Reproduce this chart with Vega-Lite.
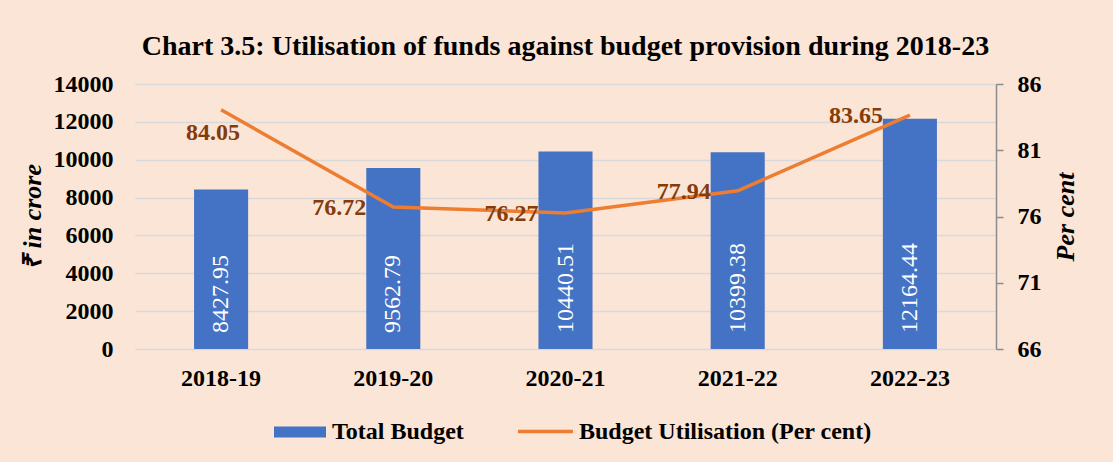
{
  "$schema": "https://vega.github.io/schema/vega-lite/v6.json",
  "width": 861,
  "height": 265,
  "autosize": {"type": "none"},
  "padding": {"left": 135, "top": 84, "right": 117, "bottom": 113},
  "background": "#FBE5D6",
  "config": {
    "view": {"stroke": null},
    "font": "Liberation Serif",
    "axis": {"labelFont": "Liberation Serif", "titleFont": "Liberation Serif", "labelColor": "#000000", "titleColor": "#000000", "labelFontWeight": "bold", "labelFontSize": 24},
    "legend": {"labelFont": "Liberation Serif", "labelFontSize": 24, "labelFontWeight": "bold", "labelColor": "#000000", "labelLimit": 500}
  },
  "title": {"text": "Chart 3.5: Utilisation of funds against budget provision during 2018-23", "font": "Liberation Serif", "fontSize": 28, "fontWeight": "bold", "color": "#000000", "anchor": "middle", "offset": 11},
  "data": {"values": [
    {"year": "2018-19", "budget": 8427.95, "util": 84.05},
    {"year": "2019-20", "budget": 9562.79, "util": 76.72},
    {"year": "2020-21", "budget": 10440.51, "util": 76.27},
    {"year": "2021-22", "budget": 10399.38, "util": 77.94},
    {"year": "2022-23", "budget": 12164.44, "util": 83.65}
  ]},
  "encoding": {
    "x": {"field": "year", "type": "nominal", "sort": null, "scale": {"paddingInner": 0, "paddingOuter": 0},
      "axis": {"title": null, "labelAngle": 0, "ticks": false, "domain": false, "labelPadding": 17, "grid": false}}
  },
  "layer": [
    {
      "encoding": {
        "y": {"field": "budget", "type": "quantitative", "scale": {"domain": [0, 14000]},
          "axis": {"title": "₹ in crore", "titleFontStyle": "italic", "titleFontWeight": "bold", "titleFontSize": 26, "titlePadding": 8,
            "values": [0, 2000, 4000, 6000, 8000, 10000, 12000, 14000], "format": "d", "domain": false, "ticks": false, "labelPadding": 22,
            "grid": true, "gridColor": "#D9D9D9", "gridWidth": 1.5}}
      },
      "layer": [
        {
          "mark": {"type": "bar", "width": {"band": 0.314}},
          "encoding": {
            "fill": {"datum": "Total Budget", "type": "nominal", "scale": {"range": ["#4472C4"]},
              "legend": {"title": null, "orient": "none", "legendX": 139, "legendY": 322, "symbolType": "M-1,-0.21H1V0.21H-1Z", "symbolSize": 2704, "symbolStrokeWidth": 0, "symbolOpacity": 1, "labelOffset": 6}}
          }
        },
        {
          "mark": {"type": "text", "angle": 270, "align": "left", "baseline": "middle", "dx": 16, "fill": "#FFFFFF", "fontSize": 24, "font": "Liberation Serif"},
          "encoding": {
            "y": {"datum": 0, "type": "quantitative"},
            "text": {"field": "budget", "type": "quantitative", "format": ".2f"}
          }
        }
      ]
    },
    {
      "encoding": {
        "y": {"field": "util", "type": "quantitative", "scale": {"domain": [66, 86]},
          "axis": {"orient": "right", "title": "Per cent", "titleAngle": 270, "titleFontStyle": "italic", "titleFontWeight": "bold", "titleFontSize": 26, "titlePadding": 37,
            "values": [66, 71, 76, 81, 86], "grid": false, "domainColor": "#8C8C8C", "domainWidth": 1.5, "tickColor": "#8C8C8C", "tickWidth": 1.5, "tickSize": 7, "labelPadding": 14}}
      },
      "layer": [
        {
          "mark": {"type": "line", "strokeWidth": 3.5},
          "encoding": {
            "stroke": {"datum": "Budget Utilisation (Per cent)", "type": "nominal", "scale": {"range": ["#ED7D31"]},
              "legend": {"title": null, "orient": "none", "legendX": 381, "legendY": 318, "symbolType": "stroke", "symbolSize": 3025, "symbolStrokeWidth": 3.5, "labelOffset": 4}}
          }
        },
        {
          "transform": [{"filter": "datum.year != '2018-19'"}],
          "mark": {"type": "text", "align": "center", "baseline": "middle", "dx": -54, "dy": 1, "fill": "#843C0C", "fontSize": 24, "fontWeight": "bold", "font": "Liberation Serif"},
          "encoding": {
            "text": {"field": "util", "type": "quantitative", "format": ".2f"}
          }
        },
        {
          "transform": [{"filter": "datum.year == '2018-19'"}],
          "mark": {"type": "text", "align": "center", "baseline": "middle", "dx": -8, "dy": 23, "fill": "#843C0C", "fontSize": 24, "fontWeight": "bold", "font": "Liberation Serif"},
          "encoding": {
            "text": {"field": "util", "type": "quantitative", "format": ".2f"}
          }
        }
      ]
    }
  ],
  "resolve": {"scale": {"y": "independent", "fill": "independent", "stroke": "independent"}}
}
